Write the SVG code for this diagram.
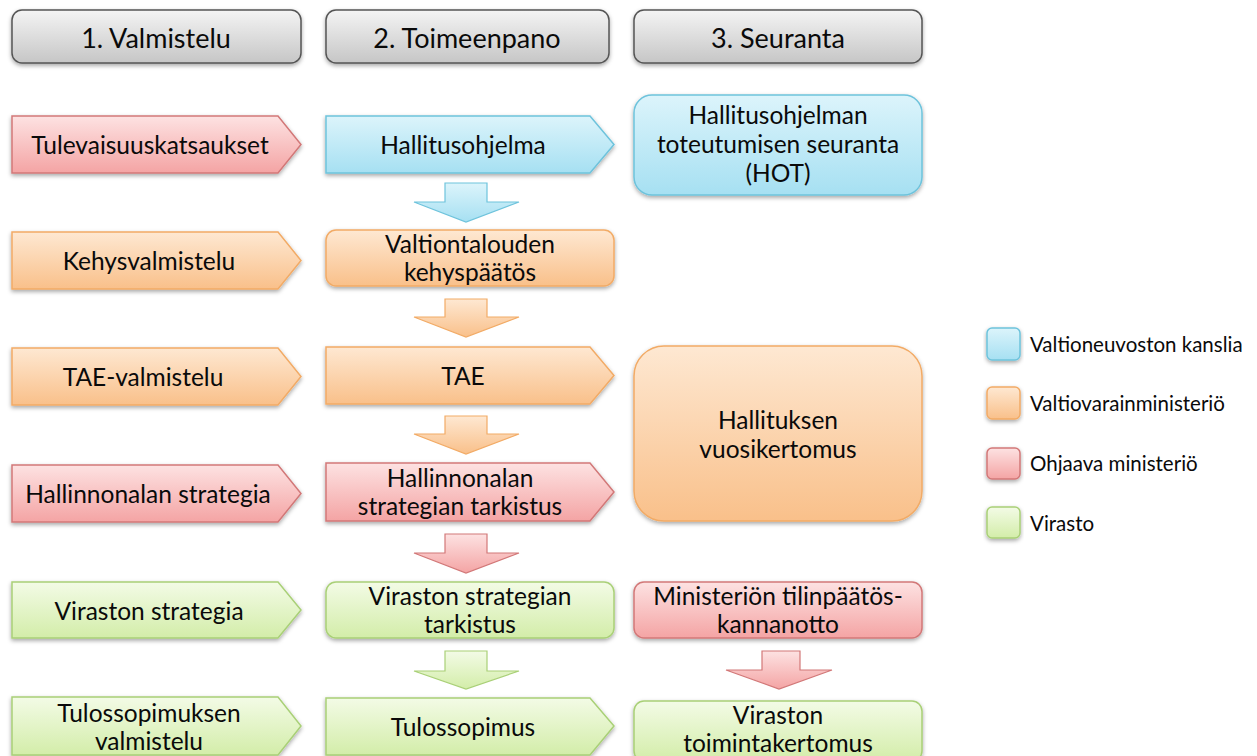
<svg xmlns="http://www.w3.org/2000/svg" width="1257" height="756" viewBox="0 0 1257 756">
  <defs>
    <linearGradient id="gGray" x1="0" y1="0" x2="0" y2="1">
      <stop offset="0" stop-color="#f4f4f4"/>
      <stop offset="1" stop-color="#c6c6c6"/>
    </linearGradient>
    <linearGradient id="gRed" x1="0" y1="0" x2="0" y2="1">
      <stop offset="0" stop-color="#fde2e2"/>
      <stop offset="1" stop-color="#f4a4a4"/>
    </linearGradient>
    <linearGradient id="gBlue" x1="0" y1="0" x2="0" y2="1">
      <stop offset="0" stop-color="#dcf4fb"/>
      <stop offset="1" stop-color="#a6e0f2"/>
    </linearGradient>
    <linearGradient id="gOrange" x1="0" y1="0" x2="0" y2="1">
      <stop offset="0" stop-color="#fee8d2"/>
      <stop offset="1" stop-color="#f9c08a"/>
    </linearGradient>
    <linearGradient id="gGreen" x1="0" y1="0" x2="0" y2="1">
      <stop offset="0" stop-color="#f3fbe6"/>
      <stop offset="1" stop-color="#d3eda9"/>
    </linearGradient>
    <filter id="shadow" x="-10%" y="-20%" width="120%" height="150%">
      <feDropShadow dx="0" dy="2" stdDeviation="2" flood-color="#000" flood-opacity="0.35"/>
    </filter>
  </defs>
  <style>
    text { font-family: Lato, "Liberation Sans", sans-serif; fill: #0a0a0a; text-anchor: middle; }
    .hdr { font-size: 27px; }
    .lbl { font-size: 24.5px; }
    .leg { font-size: 20.5px; text-anchor: start; }
    .shape { filter: url(#shadow); stroke-width: 1.5; }
    .gray { fill: url(#gGray); stroke: #555; }
    .red { fill: url(#gRed); stroke: #d27878; }
    .blue { fill: url(#gBlue); stroke: #6ec3dc; }
    .orange { fill: url(#gOrange); stroke: #f2ab66; }
    .green { fill: url(#gGreen); stroke: #a9d077; }
    .arrow { stroke-width: 1.2; }
  </style>
  <rect width="1257" height="756" fill="#fff"/>

  <!-- Phase headers -->
  <g id="hdr-valmistelu">
    <rect class="shape gray" x="12" y="10" width="289" height="53" rx="10"/>
    <text class="hdr" x="156" y="48">1. Valmistelu</text>
  </g>
  <g id="hdr-toimeenpano">
    <rect class="shape gray" x="326" y="10" width="283" height="53" rx="10"/>
    <text class="hdr" x="467" y="48">2. Toimeenpano</text>
  </g>
  <g id="hdr-seuranta">
    <rect class="shape gray" x="634" y="10" width="288" height="53" rx="10"/>
    <text class="hdr" x="778" y="48">3. Seuranta</text>
  </g>

  <!-- Column 1: preparation -->
  <g id="tulevaisuuskatsaukset">
    <path class="shape red" d="M12 116 H278 L301 144.5 L278 173 H12 Z"/>
    <text class="lbl" x="150" y="154">Tulevaisuuskatsaukset</text>
  </g>
  <g id="kehysvalmistelu">
    <path class="shape orange" d="M12 232 H278 L301 260.5 L278 289 H12 Z"/>
    <text class="lbl" x="149" y="270">Kehysvalmistelu</text>
  </g>
  <g id="tae-valmistelu">
    <path class="shape orange" d="M12 348 H278 L301 376.5 L278 405 H12 Z"/>
    <text class="lbl" x="143" y="386">TAE-valmistelu</text>
  </g>
  <g id="hallinnonalan-strategia">
    <path class="shape red" d="M12 465 H278 L301 493.5 L278 522 H12 Z"/>
    <text class="lbl" x="148" y="503">Hallinnonalan strategia</text>
  </g>
  <g id="viraston-strategia">
    <path class="shape green" d="M12 582 H278 L301 610 L278 638 H12 Z"/>
    <text class="lbl" x="149" y="620">Viraston strategia</text>
  </g>
  <g id="tulossopimuksen-valmistelu">
    <path class="shape green" d="M12 697 H278 L301 726 L278 755 H12 Z"/>
    <text class="lbl" x="149" y="722">Tulossopimuksen</text>
    <text class="lbl" x="149" y="750">valmistelu</text>
  </g>

  <!-- Column 2: implementation -->
  <g id="hallitusohjelma">
    <path class="shape blue" d="M326 116 H590 L614 144.5 L590 173 H326 Z"/>
    <text class="lbl" x="463" y="154">Hallitusohjelma</text>
  </g>
  <g id="kehyspaatos">
    <rect class="shape orange" x="326" y="230" width="288" height="56" rx="10"/>
    <text class="lbl" x="470" y="253">Valtiontalouden</text>
    <text class="lbl" x="470" y="281">kehyspäätös</text>
  </g>
  <g id="tae">
    <path class="shape orange" d="M326 347 H590 L614 375.5 L590 404 H326 Z"/>
    <text class="lbl" x="463" y="385">TAE</text>
  </g>
  <g id="strategian-tarkistus">
    <path class="shape red" d="M326 463 H590 L614 492 L590 521 H326 Z"/>
    <text class="lbl" x="460" y="487">Hallinnonalan</text>
    <text class="lbl" x="460" y="515">strategian tarkistus</text>
  </g>
  <g id="viraston-tarkistus">
    <rect class="shape green" x="326" y="582" width="288" height="56" rx="10"/>
    <text class="lbl" x="470" y="605">Viraston strategian</text>
    <text class="lbl" x="470" y="633">tarkistus</text>
  </g>
  <g id="tulossopimus">
    <path class="shape green" d="M326 698 H590 L614 726 L590 755 H326 Z"/>
    <text class="lbl" x="463" y="736">Tulossopimus</text>
  </g>

  <!-- Column 3: follow-up -->
  <g id="hot">
    <rect class="shape blue" x="634" y="95" width="288" height="100" rx="18"/>
    <text class="lbl" x="778" y="124">Hallitusohjelman</text>
    <text class="lbl" x="778" y="153">toteutumisen seuranta</text>
    <text class="lbl" x="778" y="182">(HOT)</text>
  </g>
  <g id="vuosikertomus">
    <rect class="shape orange" x="634" y="346" width="288" height="175" rx="30"/>
    <text class="lbl" x="778" y="429">Hallituksen</text>
    <text class="lbl" x="778" y="458">vuosikertomus</text>
  </g>
  <g id="kannanotto">
    <rect class="shape red" x="634" y="582" width="288" height="56" rx="10"/>
    <text class="lbl" x="778" y="605">Ministeriön tilinpäätös-</text>
    <text class="lbl" x="778" y="633">kannanotto</text>
  </g>
  <g id="toimintakertomus">
    <rect class="shape green" x="634" y="701" width="288" height="60" rx="10"/>
    <text class="lbl" x="778" y="724">Viraston</text>
    <text class="lbl" x="778" y="752">toimintakertomus</text>
  </g>

  <!-- Flow arrows -->
  <g id="connectors">
    <path class="arrow blue" d="M445 183 H487 V202 H519 L466 222 L414 202 H445 Z"/>
    <path class="arrow orange" d="M445 299 H487 V317 H519 L466 337 L414 317 H445 Z"/>
    <path class="arrow orange" d="M445 416 H487 V434 H519 L466 454 L414 434 H445 Z"/>
    <path class="arrow red" d="M445 534 H487 V553 H519 L466 573 L414 553 H445 Z"/>
    <path class="arrow green" d="M445 651 H487 V671 H519 L466 689 L414 671 H445 Z"/>
    <path class="arrow red" d="M762 651 H800 V670 H832 L779 689 L726 670 H762 Z"/>
  </g>

  <!-- Legend -->
  <g id="legend">
    <rect class="shape blue" x="987" y="328" width="33" height="32" rx="5"/>
    <text class="leg" x="1030" y="352">Valtioneuvoston kanslia</text>
    <rect class="shape orange" x="987" y="387" width="33" height="32" rx="5"/>
    <text class="leg" x="1030" y="411">Valtiovarainministeriö</text>
    <rect class="shape red" x="987" y="448" width="33" height="31" rx="5"/>
    <text class="leg" x="1030" y="471">Ohjaava ministeriö</text>
    <rect class="shape green" x="987" y="507" width="33" height="31" rx="5"/>
    <text class="leg" x="1030" y="531">Virasto</text>
  </g>
</svg>
